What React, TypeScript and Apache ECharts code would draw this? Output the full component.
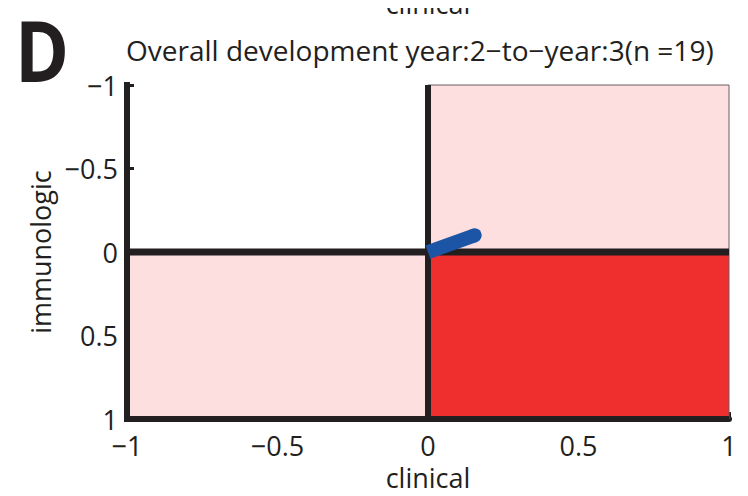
import React, { useEffect, useRef } from "react";
import * as echarts from "echarts";

const TITLE = "Overall development year:2\u2212to\u2212year:3(n =19)";
const PANEL_LETTER = "D";
const X_NAME = "clinical";
const Y_NAME = "immunologic";
const X_RANGE = [-1, 1];
const Y_RANGE = [-1, 1];
const TICK_STEP = 0.5;

// quadrants: [x0, y0, x1, y1, colour]
const QUADRANTS: [number, number, number, number, string][] = [
  [0, -1, 1, 0, "#fddfe0"],
  [-1, 0, 0, 1, "#fddfe0"],
  [0, 0, 1, 1, "#ef2e2e"],
];

// black reference lines
const V_ZERO = [[0, -1], [0, 1]];
const H_ZERO = [[-1, 0], [1, 0]];
const LEFT_AXIS = [[-1, -1.03], [-1, 1.015]];
const BOTTOM_AXIS = [[-1.01, 1], [1, 1]];

// arrow from start to end
const ARROW_START = [0, 0];
const ARROW_END = [0.155, -0.1];

const FONT = "'Open Sans', sans-serif";
const INK = "#231f20";

const fmt = (v: number) => (v < 0 ? "\u2212" + Math.abs(v) : String(v));

export default function App() {
  const ref = useRef<HTMLDivElement>(null);
  useEffect(() => {
    if (!ref.current) return;
    const chart = echarts.init(ref.current, null, { renderer: "svg" });
    const blackLine = (data: number[][], width: number, z: number) => ({
      type: "line",
      data,
      symbol: "none",
      z,
      lineStyle: { color: INK, width, cap: "butt" },
      silent: true,
    });
    const axisCommon = {
      type: "value",
      interval: TICK_STEP,
      nameLocation: "middle",
      nameTextStyle: { fontFamily: FONT, fontSize: 27, color: INK },
      axisLine: { show: true, onZero: false, lineStyle: { color: INK, width: 6 } },
      axisTick: { show: true, inside: true, length: 7, lineStyle: { color: INK, width: 3 } },
      splitLine: { show: false },
    };
    chart.setOption({
      animation: false,
      title: {
        text: TITLE,
        left: 121,
        top: 31,
        textStyle: { fontFamily: FONT, fontSize: 28, fontWeight: "normal", color: INK },
      },
      grid: { left: 127, right: 19, top: 85, bottom: 72 },
      xAxis: {
        ...axisCommon,
        min: X_RANGE[0],
        max: X_RANGE[1],
        name: X_NAME,
        nameGap: 38,
        axisLabel: { fontFamily: FONT, fontSize: 27, color: INK, margin: 13, formatter: fmt },
      },
      yAxis: {
        ...axisCommon,
        inverse: true,
        min: Y_RANGE[0],
        max: Y_RANGE[1],
        name: Y_NAME,
        nameGap: 52,
        axisLabel: { fontFamily: FONT, fontSize: 27, color: INK, margin: 9, formatter: fmt },
      },
      graphic: [
        {
          type: "text",
          left: 15,
          top: 7,
          scaleX: 0.87,
          style: { text: PANEL_LETTER, font: `bold 84px ${FONT}`, fill: INK },
        },
        {
          type: "text",
          x: 428,
          y: 17,
          style: { text: X_NAME, font: `27px ${FONT}`, fill: INK, textAlign: "center", textVerticalAlign: "bottom" },
        },
      ],
      series: [
        {
          type: "line",
          data: [],
          z: 1,
          silent: true,
          markArea: {
            silent: true,
            data: QUADRANTS.map(([x0, y0, x1, y1, c]) => [
              { coord: [x0, y0], itemStyle: { color: c, borderColor: "#6b6060", borderWidth: 1 } },
              { coord: [x1, y1] },
            ]),
          },
        },
        blackLine(V_ZERO, 6, 3),
        blackLine(H_ZERO, 7, 3),
        blackLine(LEFT_AXIS, 6, 4),
        blackLine(BOTTOM_AXIS, 6, 4),
        {
          type: "line",
          z: 6,
          silent: true,
          showSymbol: true,
          data: [
            { value: ARROW_START, symbol: "none" },
            { value: ARROW_END, symbol: "circle", symbolSize: 14 },
          ],
          itemStyle: { color: "#1c55a5" },
          lineStyle: { color: "#1c55a5", width: 14, cap: "butt" },
        },
      ],
    });
    return () => chart.dispose();
  }, []);
  return <div ref={ref} style={{ width: 748, height: 496, margin: -8 }} />;
}
